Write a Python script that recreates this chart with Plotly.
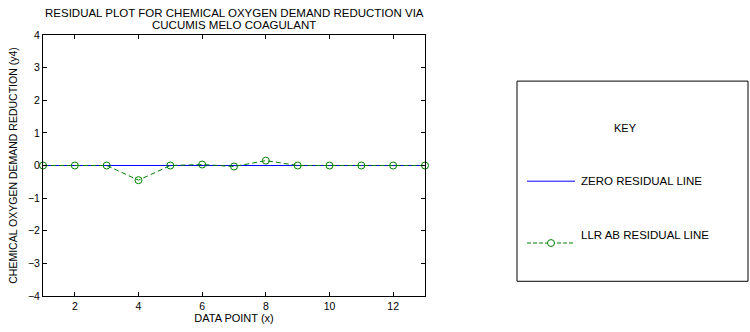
import plotly.graph_objects as go

data_points = list(range(1, 14))
zero_residual = [0] * 13
llr_ab_residual = [0, 0, 0, -0.45, 0, 0.03, -0.03, 0.15, 0, 0, 0, 0, 0]
x_ticks = [2, 4, 6, 8, 10, 12]
y_ticks = [-4, -3, -2, -1, 0, 1, 2, 3, 4]
title_lines = ["RESIDUAL PLOT FOR CHEMICAL OXYGEN DEMAND REDUCTION VIA", "CUCUMIS MELO COAGULANT"]

W, H = 750, 332
L, R, T, B = 43, 325, 35, 31
PW, PH = W - L - R, H - T - B

def px(x):
    return (x - L) / PW

def py(y):
    return (H - B - y) / PH

FONT = "Liberation Sans, Arial, sans-serif"
BLUE = "rgb(0,0,255)"
GREEN = "rgb(0,128,0)"
DASH = "5px,3px"

fig = go.Figure()
fig.add_trace(go.Scatter(x=data_points, y=zero_residual, mode="lines",
                         line=dict(color=BLUE, width=1), showlegend=False))
fig.add_trace(go.Scatter(x=data_points, y=llr_ab_residual, mode="lines+markers",
                         line=dict(color=GREEN, width=1, dash=DASH),
                         marker=dict(symbol="circle-open", size=7, color=GREEN, line=dict(width=1)),
                         cliponaxis=False, showlegend=False))

axis_common = dict(showline=True, linecolor="black", linewidth=1, mirror="ticks",
                   ticks="inside", ticklen=4, tickcolor="black", showgrid=False,
                   zeroline=False, tickfont=dict(family=FONT, size=10.5, color="black"))

fig.update_layout(
    width=W, height=H, margin=dict(l=L, r=R, t=T, b=B),
    paper_bgcolor="white", plot_bgcolor="white",
    font=dict(family=FONT, size=10.5, color="black"),
    xaxis=dict(range=[1, 13], tickvals=x_ticks,
               title=dict(text="DATA POINT (x)", font=dict(family=FONT, size=11), standoff=1),
               **axis_common),
    yaxis=dict(range=[-4, 4], tickvals=y_ticks,
               title=dict(text="CHEMICAL OXYGEN DEMAND REDUCTION (y4)", font=dict(family=FONT, size=10.5), standoff=8),
               **axis_common),
    showlegend=False,
)

# Title (two lines, tight spacing)
for i, line in enumerate(title_lines):
    fig.add_annotation(xref="paper", yref="paper", x=0.5, y=py(13 + 12 * i), yanchor="middle", showarrow=False,
                       text=line, font=dict(family=FONT, size=11.5), align="center")

# Legend box
fig.add_shape(type="rect", xref="paper", yref="paper", x0=px(517), x1=px(748), y0=py(286), y1=py(82),
              line=dict(color="black", width=1), fillcolor="white", layer="below")
fig.add_annotation(xref="paper", yref="paper", x=px(639), y=py(122), showarrow=False, text="KEY",
                   font=dict(family=FONT, size=11))
fig.add_shape(type="line", xref="paper", yref="paper", x0=px(527), x1=px(575), y0=py(184), y1=py(184),
              line=dict(color=BLUE, width=1))
fig.add_annotation(xref="paper", yref="paper", x=px(579), y=py(184), xanchor="left", showarrow=False,
                   text="ZERO RESIDUAL LINE", font=dict(family=FONT, size=11.5))
fig.add_shape(type="line", xref="paper", yref="paper", x0=px(527), x1=px(575), y0=py(247), y1=py(247),
              line=dict(color=GREEN, width=1, dash="4px,2px"))
fig.add_shape(type="circle", xref="paper", yref="paper", x0=px(547.5), x1=px(554.5), y0=py(250.5), y1=py(243.5),
              line=dict(color=GREEN, width=1), fillcolor="white")
fig.add_annotation(xref="paper", yref="paper", x=px(579), y=py(247), xanchor="left", showarrow=False,
                   text="LLR AB RESIDUAL LINE", font=dict(family=FONT, size=11.5))

fig.write_html("out.html")
